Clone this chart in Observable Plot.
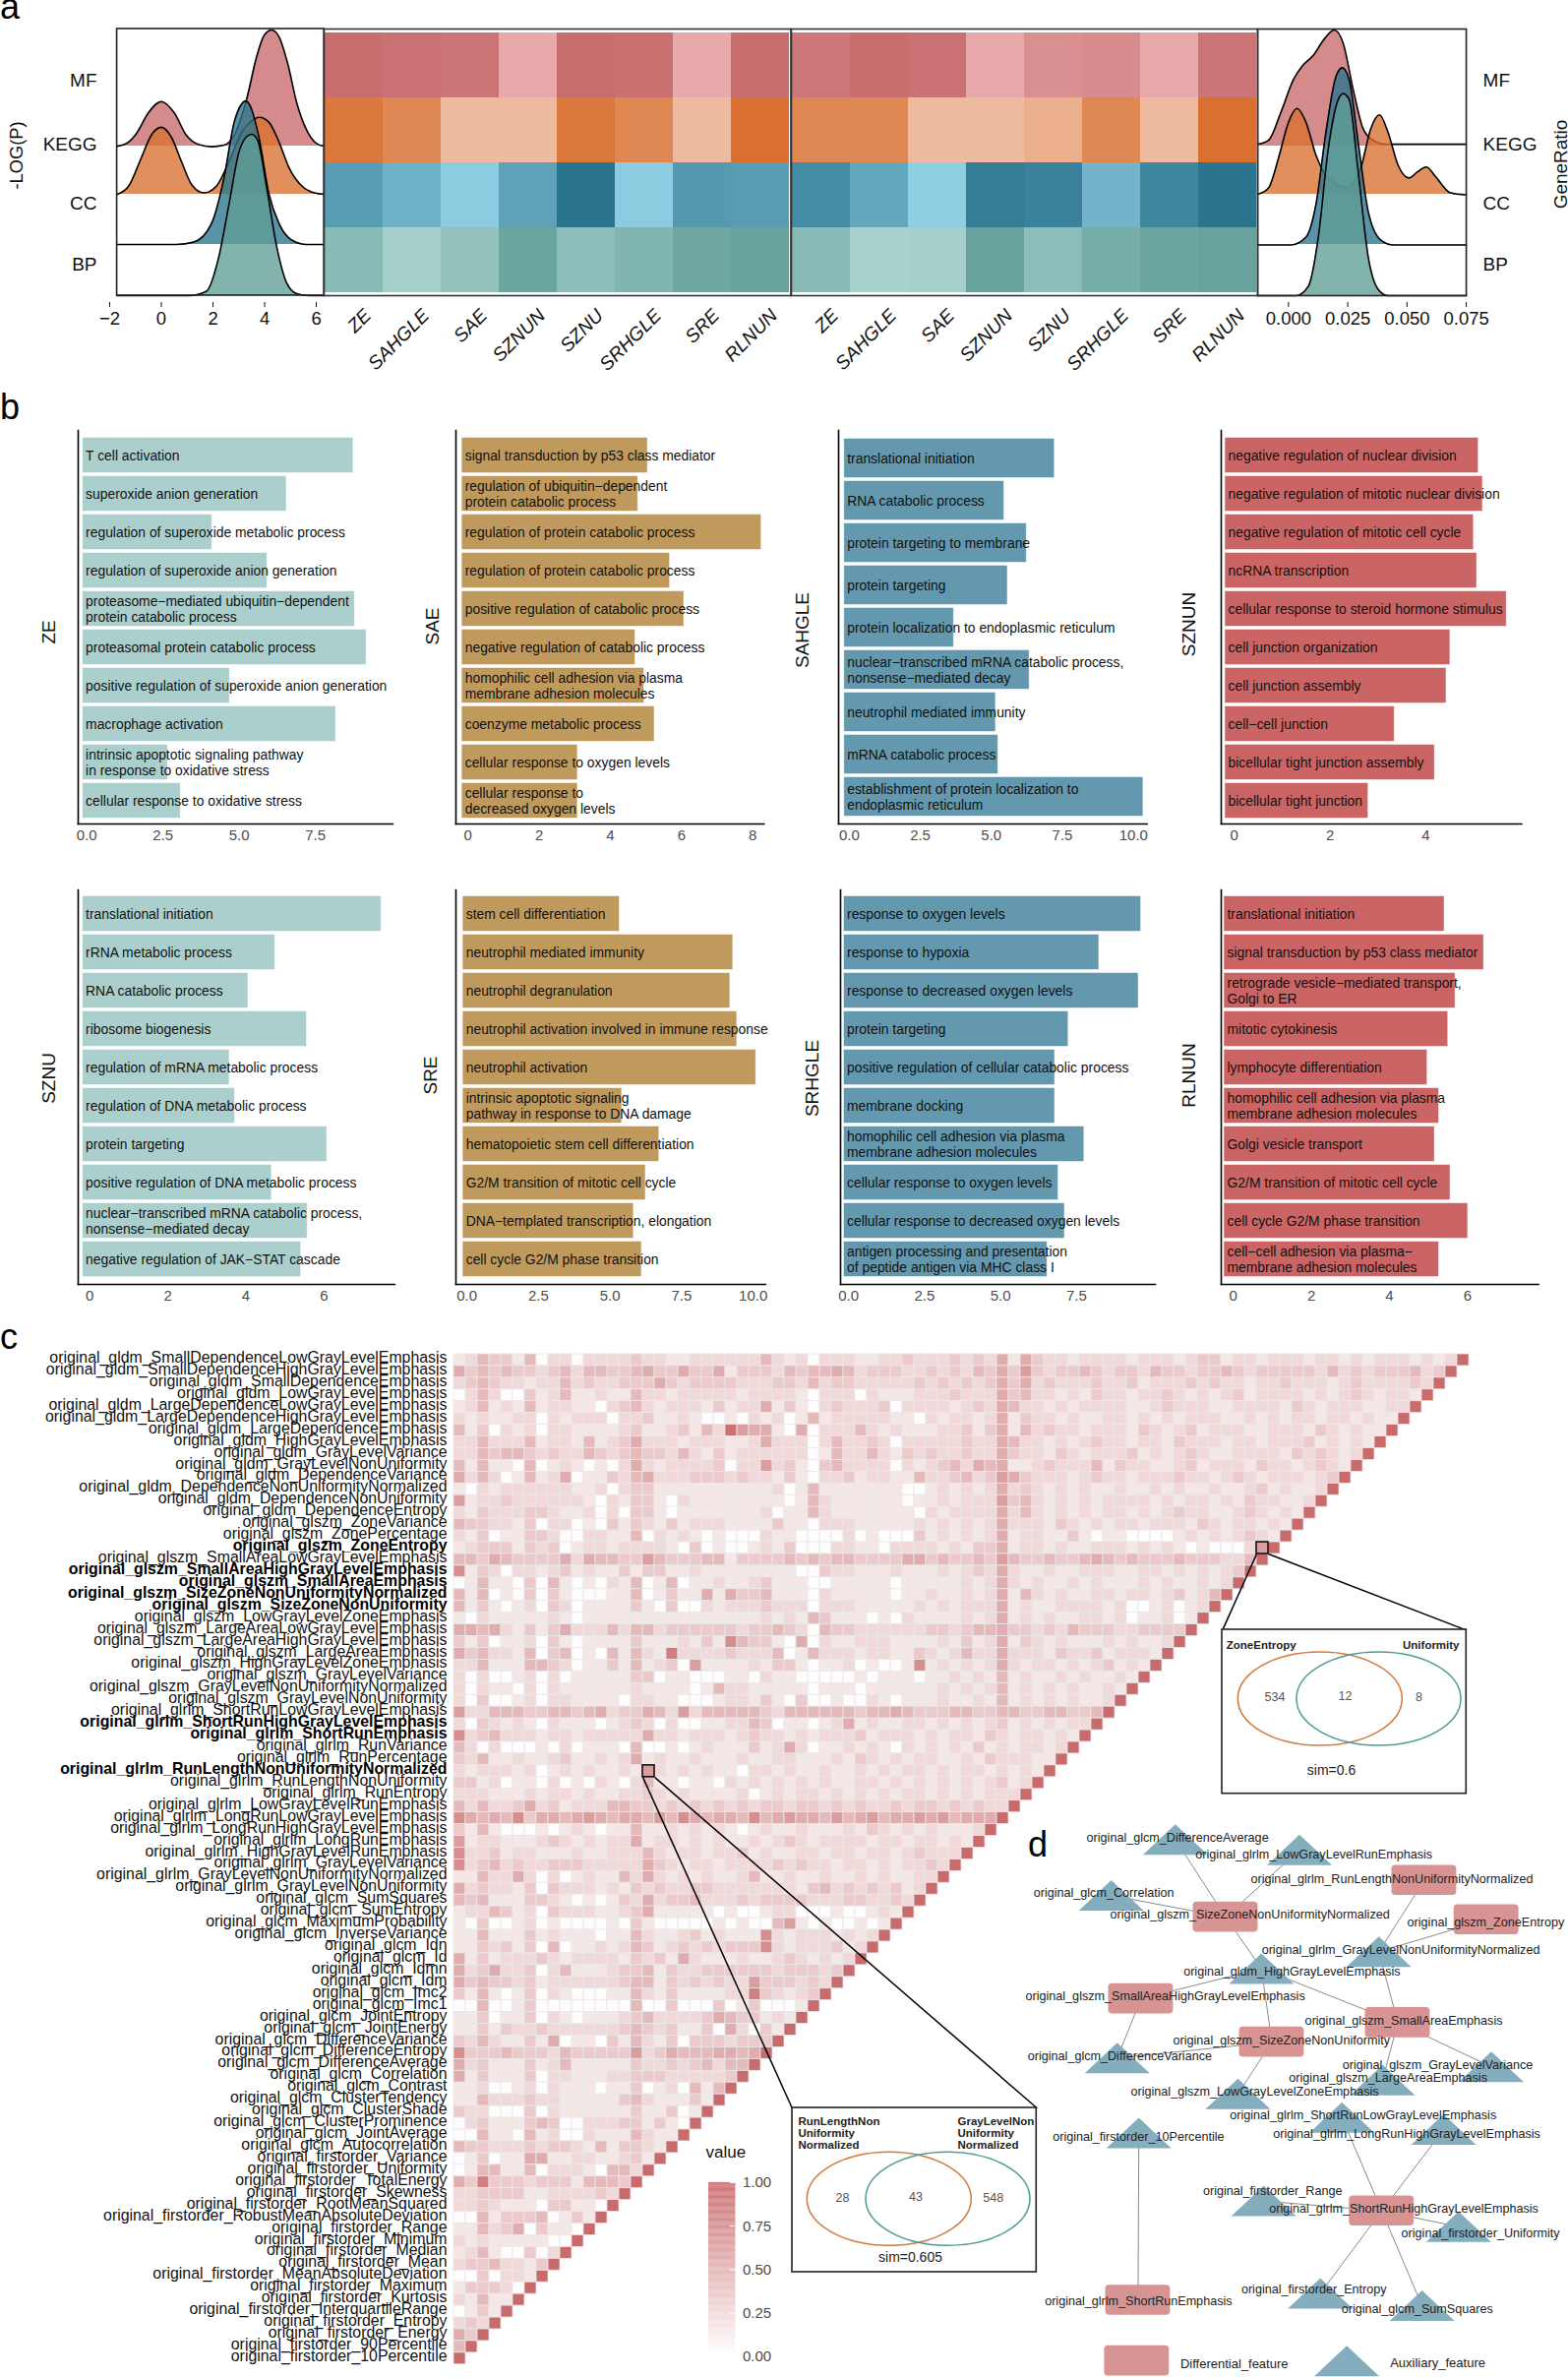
<!DOCTYPE html>
<html><head><meta charset="utf-8">
<script src="https://cdn.jsdelivr.net/npm/d3@7"></script>
<script src="https://cdn.jsdelivr.net/npm/@observablehq/plot@0.6"></script>
<style>
html,body{margin:0;padding:0;background:#fff;overflow:hidden}
#page{position:relative;width:1594px;height:2416px;background:#fff;font-family:"Liberation Sans",Arial,sans-serif}
.tag{position:absolute;font-size:36px;line-height:1;color:#000}
</style></head><body><div id="page"></div>
<script>
const FONT='"Liberation Sans", Arial, sans-serif';
const page=document.getElementById("page");

/* ---------- panel a data ---------- */
const ridgeNames=["MF","KEGG","CC","BP"];
const ridgeBase=[3.01,2.04,1.03,0];
const ridgeFill=["#c96a6c","#d9712f","#2a748e","#5f9e96"];
const logpMFx=[-1.71,-1.36,-0.97,-0.49,0,0.49,0.97,1.46,1.94,2.43,2.82,3.3,3.69,3.98,4.27,4.56,4.89,5.24,5.63,6.02,6.31];
const logpMFy=[3.01,3.06,3.26,3.69,3.91,3.69,3.23,3.04,3.0,3.03,3.23,3.95,4.81,5.24,5.35,5.21,4.68,3.89,3.33,3.06,3.01];
const logpKEGGx=[-1.71,-1.26,-0.78,-0.39,0,0.39,0.78,1.17,1.65,2.14,2.62,3.11,3.5,3.79,4.17,4.56,4.95,5.44,5.92,6.31];
const logpKEGGy=[2.04,2.21,2.77,3.23,3.39,3.19,2.7,2.24,2.07,2.21,2.7,3.29,3.52,3.59,3.49,3.09,2.57,2.21,2.07,2.04];
const logpCCx=[-1.71,0.58,1.26,1.94,2.43,2.82,3.11,3.26,3.44,3.79,4.17,4.56,5.05,5.63,6.31];
const logpCCy=[1.03,1.03,1.08,1.45,2.38,3.49,3.86,3.92,3.82,3.16,2.04,1.45,1.12,1.03,1.03];
const logpBPx=[-1.71,1.07,1.75,2.23,2.62,3.01,3.3,3.5,3.73,4.08,4.47,4.85,5.24,5.73,6.31];
const logpBPy=[0,0,0.09,0.79,1.84,2.9,3.2,3.25,3.13,2.17,0.98,0.26,0.04,0,0];
const ratioMFx=[-0.013,-0.0084,-0.0032,0.0021,0.0063,0.0105,0.0147,0.0193,0.0231,0.0273,0.0315,0.0357,0.041,0.075];
const ratioMFy=[3.05,3.13,3.69,4.35,4.65,4.84,5.14,5.35,5.08,4.15,3.36,3.13,3.05,3.05];
const ratioKEGGx=[-0.013,-0.0084,-0.0042,0,0.0036,0.0074,0.0116,0.0168,0.0246,0.0305,0.0347,0.0384,0.042,0.0462,0.0508,0.0546,0.0582,0.062,0.0683,0.075];
const ratioKEGGy=[2.04,2.17,2.77,3.49,3.77,3.49,2.83,2.37,2.18,2.57,3.36,3.64,3.29,2.63,2.37,2.5,2.59,2.4,2.07,2.03];
const ratioCCx=[-0.013,0.001,0.0074,0.0116,0.0158,0.02,0.0227,0.0256,0.0294,0.0336,0.0389,0.0441,0.075];
const ratioCCy=[1.02,1.02,1.18,1.84,3.29,4.41,4.59,4.35,3.09,1.7,1.12,1.02,1.02];
const ratioBPx=[-0.013,0.0032,0.0084,0.0126,0.0168,0.021,0.0231,0.0256,0.0294,0.0336,0.0378,0.042,0.075];
const ratioBPy=[0,0,0.19,1.18,2.96,3.95,4.07,3.95,2.5,0.79,0.13,0,0];
const heatCols=["ZE","SAHGLE","SAE","SZNUN","SZNU","SRHGLE","SRE","RLNUN"];
const heatLight=["#e9acad","#efbfa6","#92d0e4","#aad2ce"];
const heatDark=["#c76b6c","#d97030","#2a748e","#5f9e96"];
const heatLeftMF=[.95,.9,.85,.05,.95,.92,.05,.97];
const heatLeftKEGG=[.9,.7,.05,.05,.9,.7,.05,1];
const heatLeftCC=[.55,.35,.05,.5,1,.05,.6,.55];
const heatLeftBP=[.45,.05,.3,.85,.4,.55,.8,.9];
const heatRightMF=[.8,.98,.9,.05,.45,.5,.05,.85];
const heatRightKEGG=[.7,.7,.05,.05,.2,.7,.05,1];
const heatRightCC=[.75,.45,.02,.9,.85,.3,.8,1];
const heatRightBP=[.45,.02,.05,.9,.4,.7,.85,.9];

/* ---------- panel b data ---------- */
const termsZE=["T cell activation","superoxide anion generation","regulation of superoxide metabolic process","regulation of superoxide anion generation","proteasome−mediated ubiquitin−dependent\nprotein catabolic process","proteasomal protein catabolic process","positive regulation of superoxide anion generation","macrophage activation","intrinsic apoptotic signaling pathway\nin response to oxidative stress","cellular response to oxidative stress"];
const valuesZE=[8.73,6.54,4.10,5.91,8.78,9.16,4.68,8.16,2.65,3.07];
const termsSAE=["signal transduction by p53 class mediator","regulation of ubiquitin−dependent\nprotein catabolic process","regulation of protein catabolic process","regulation of protein catabolic process","positive regulation of catabolic process","negative regulation of catabolic process","homophilic cell adhesion via plasma\nmembrane adhesion molecules","coenzyme metabolic process","cellular response to oxygen levels","cellular response to\ndecreased oxygen levels"];
const valuesSAE=[5.04,4.77,8.23,5.66,6.06,4.69,4.94,5.23,3.07,3.07];
const termsSAHGLE=["translational initiation","RNA catabolic process","protein targeting to membrane","protein targeting","protein localization to endoplasmic reticulum","nuclear−transcribed mRNA catabolic process,\nnonsense−mediated decay","neutrophil mediated immunity","mRNA catabolic process","establishment of protein localization to\nendoplasmic reticulum"];
const valuesSAHGLE=[7.21,5.44,6.23,5.56,3.67,6.33,5.14,5.23,10.33];
const termsSZNUN=["negative regulation of nuclear division","negative regulation of mitotic nuclear division","negative regulation of mitotic cell cycle","ncRNA transcription","cellular response to steroid hormone stimulus","cell junction organization","cell junction assembly","cell−cell junction","bicellular tight junction assembly","bicellular tight junction"];
const valuesSZNUN=[5.09,5.18,4.99,5.06,5.68,4.5,4.42,3.34,4.18,2.79];
const termsSZNU=["translational initiation","rRNA metabolic process","RNA catabolic process","ribosome biogenesis","regulation of mRNA metabolic process","regulation of DNA metabolic process","protein targeting","positive regulation of DNA metabolic process","nuclear−transcribed mRNA catabolic process,\nnonsense−mediated decay","negative regulation of JAK−STAT cascade"];
const valuesSZNU=[7.46,4.74,4.05,5.55,3.57,3.71,6.07,4.65,5.57,5.4];
const termsSRE=["stem cell differentiation","neutrophil mediated immunity","neutrophil degranulation","neutrophil activation involved in immune response","neutrophil activation","intrinsic apoptotic signaling\npathway in response to DNA damage","hematopoietic stem cell differentiation","G2/M transition of mitotic cell cycle","DNA−templated transcription, elongation","cell cycle G2/M phase transition"];
const valuesSRE=[5.32,9.28,9.18,9.42,10.09,5.4,6.7,6.23,5.81,6.09];
const termsSRHGLE=["response to oxygen levels","response to hypoxia","response to decreased oxygen levels","protein targeting","positive regulation of cellular catabolic process","membrane docking","homophilic cell adhesion via plasma\nmembrane adhesion molecules","cellular response to oxygen levels","cellular response to decreased oxygen levels","antigen processing and presentation\nof peptide antigen via MHC class I"];
const valuesSRHGLE=[9.61,8.23,9.53,7.22,6.78,6.78,7.74,6.89,7.1,6.53];
const termsRLNUN=["translational initiation","signal transduction by p53 class mediator","retrograde vesicle−mediated transport,\nGolgi to ER","mitotic cytokinesis","lymphocyte differentiation","homophilic cell adhesion via plasma\nmembrane adhesion molecules","Golgi vesicle transport","G2/M transition of mitotic cell cycle","cell cycle G2/M phase transition","cell−cell adhesion via plasma−\nmembrane adhesion molecules"];
const valuesRLNUN=[5.4,6.41,5.68,5.49,4.96,5.26,5.15,5.55,6.0,5.26];

/* ---------- panel c data ---------- */
const featGldm=["SmallDependenceLowGrayLevelEmphasis","SmallDependenceHighGrayLevelEmphasis","SmallDependenceEmphasis","LowGrayLevelEmphasis","LargeDependenceLowGrayLevelEmphasis","LargeDependenceHighGrayLevelEmphasis","LargeDependenceEmphasis","HighGrayLevelEmphasis","GrayLevelVariance","GrayLevelNonUniformity","DependenceVariance","DependenceNonUniformityNormalized","DependenceNonUniformity","DependenceEntropy"].map(d=>"original_gldm_"+d);
const featGlszm=["ZoneVariance","ZonePercentage","ZoneEntropy","SmallAreaLowGrayLevelEmphasis","SmallAreaHighGrayLevelEmphasis","SmallAreaEmphasis","SizeZoneNonUniformityNormalized","SizeZoneNonUniformity","LowGrayLevelZoneEmphasis","LargeAreaLowGrayLevelEmphasis","LargeAreaHighGrayLevelEmphasis","LargeAreaEmphasis","HighGrayLevelZoneEmphasis","GrayLevelVariance","GrayLevelNonUniformityNormalized","GrayLevelNonUniformity"].map(d=>"original_glszm_"+d);
const featGlrlm=["ShortRunLowGrayLevelEmphasis","ShortRunHighGrayLevelEmphasis","ShortRunEmphasis","RunVariance","RunPercentage","RunLengthNonUniformityNormalized","RunLengthNonUniformity","RunEntropy","LowGrayLevelRunEmphasis","LongRunLowGrayLevelEmphasis","LongRunHighGrayLevelEmphasis","LongRunEmphasis","HighGrayLevelRunEmphasis","GrayLevelVariance","GrayLevelNonUniformityNormalized","GrayLevelNonUniformity"].map(d=>"original_glrlm_"+d);
const featGlcm=["SumSquares","SumEntropy","MaximumProbability","InverseVariance","Idn","Id","Idmn","Idm","Imc2","Imc1","JointEntropy","JointEnergy","DifferenceVariance","DifferenceEntropy","DifferenceAverage","Correlation","Contrast","ClusterTendency","ClusterShade","ClusterProminence","JointAverage","Autocorrelation"].map(d=>"original_glcm_"+d);
const featFirst=["Variance","Uniformity","TotalEnergy","Skewness","RootMeanSquared","RobustMeanAbsoluteDeviation","Range","Minimum","Median","Mean","MeanAbsoluteDeviation","Maximum","Kurtosis","InterquartileRange","Entropy","Energy","90Percentile","10Percentile"].map(d=>"original_firstorder_"+d);
const features=[...featGldm,...featGlszm,...featGlrlm,...featGlcm,...featFirst];
const boldFeatures=["original_glszm_ZoneEntropy","original_glszm_SmallAreaHighGrayLevelEmphasis","original_glszm_SmallAreaEmphasis","original_glszm_SizeZoneNonUniformityNormalized","original_glszm_SizeZoneNonUniformity","original_glrlm_ShortRunHighGrayLevelEmphasis","original_glrlm_ShortRunEmphasis","original_glrlm_RunLengthNonUniformityNormalized"];
/* similarity in tenths, read by eye; one string per row, diagonal omitted */
const simRows=[
"1243314022 0222232211 2222224212 0222112232 2232325153 2212222122 2123312212 2212212122 21212",
"5343433234 2443345335 3351333243 4454233322 3232435363 2334323324 3323343233 3332423233 3423",
"2343221224 2322333532 3333222332 4233222223 2323235352 3222322312 2232322122 3222123222 232",
"0242003124 1121142212 2222122221 0222021112 2232225342 2121322122 3212123122 2212123212 21",
"1241214122 1102342122 2131225131 0232223022 2212325422 1212222112 3222112222 1321222112 2",
"2121122021 2220223112 1001021201 4122222110 2122125132 2121122121 2122211212 1221221211",
"4130212022 1111231123 1429655105 0222421211 1223135142 3221222132 1231222112 221321211",
"2242224122 1412352221 2221125222 0242232022 2223225422 1212322122 1322212212 22312121",
"2243443232 2432343324 2131222222 0142242132 3223225322 1321222312 1232112222 1323212",
"4141104012 1010252122 2230226231 0342222021 2342545112 3222413221 1231222132 212321",
"5242014125 0113245222 3332322131 0223122114 2234236532 2212322122 2322123212 22123",
"1021222222 1120233111 1111111201 4111111100 1212125232 1212112112 1211211231 2112",
"6122322222 2102133102 1111111101 4211111101 1212226342 1212122221 2122121322 112",
"2132223321 1202033101 1111112011 4211111110 2122225242 1212122121 2322112321 21",
"4332213022 0103132131 2221111311 0222111112 1212125222 1321212212 2213212212 1",
"2130113320 0221140212 1010002110 0002010003 1212125122 1131011000 0121212321",
"1233313230 1221222210 3010012130 0022110222 2121335122 1211222121 210100026",
"4435433335 2544336433 3441333343 4344333355 3433436433 4334543433 34333224",
"7132022123 1211313311 2111111110 0322111211 1212325211 2112221122 1212123",
"0141103041 0102140140 1121123111 0011111011 1112125212 1121211121 211212",
"4140103031 0001140131 1515334111 0211111011 2112125142 1211221221 23124",
"4131012032 0111131030 0212223222 0222111112 1212225121 1222212001 2012",
"1021111121 0111111111 1111112121 4311101021 1112125121 2112212011 201",
"5545213135 2224244233 3333233432 0433222222 3323445332 3243332233 33",
"3130112031 0111131112 1317433105 0211222111 1213125132 1211121211 2",
"5342214034 0104142182 2223222401 4222122113 2124225222 1322312221",
"2241114432 0113141230 6111121331 0112010017 1212125212 212123121",
"2020012020 1111133011 0001102110 0000101110 1121214121 12121121",
"2021102021 1111121111 0142211111 0111011111 1212124121 2121121",
"2030012022 1111022110 0012213103 0010021011 1211214121 212112",
"6224443344 3452335426 2444443244 4444344543 3344334433 44334",
"2032121021 1101232020 0112243011 0125121122 1212123121 2122",
"7234222122 1222225221 2221232212 1222312221 2122132122 121",
"4202000102 0111040010 1211131252 0112121021 2121312122 12",
"3241121123 1121251211 2111211221 1121321212 2112132221 1",
"2122212012 1211216212 1211022121 1211212122 1212212121",
"3312011020 1021024110 1102121212 1211221212 121212312",
"2221112122 1211223212 1111201212 2121212122 12121222",
"4242235231 2224433232 3232323323 3232322323 3232322",
"7545473554 5654554647 5455474565 5464564556 564555",
"3141000101 2101141121 2121012112 1112132121 21112",
"6122111232 1212251221 2121121232 1222212212 2121",
"7223122111 2112224212 2122312112 2122122123 222",
"7234232233 3222225321 2212222323 2212212122 32",
"1142252020 1211425212 1211241121 1211212112 2",
"5232213032 2212132322 3322222221 3423232312",
"4341113321 0101325233 4222323333 222332232",
"1224312032 2211235111 1101001220 00100121",
"1030012010 0001031000 0010100461 0100101",
"1141113121 1101142112 3121117212 221212",
"1132313040 1121243123 2323337212 22312",
"5131222321 2222132315 2111211232 1212",
"5235223024 1112334132 2333333233 323",
"5343323122 2222344132 3232263332 32",
"3141013021 0001142131 1112283212 3",
"0040013000 0000040030 0030130001",
"1130113021 0111234222 235433121",
"1131322322 2222343231 13052031",
"3242113150 1103142130 3332333",
"7333433324 3333362354 445545",
"5231113124 1111132232 34244",
"5131113022 1112233322 2223",
"1120012021 1101130120 414",
"1142223221 1111342111 31",
"3220003021 1111131130 1",
"0231113430 0222331310",
"0041104120 021114211",
"4332223233 21413321",
"0130115511 2211231",
"0144114022 210442",
"5383332333 14443",
"2233331122 2232",
"2232111033 110",
"0041333401 31",
"1142350311 0",
"2121111100",
"124100302",
"23342213",
"0030221",
"133320",
"21411",
"0131",
"232",
"53",
"4",
""];
const valueTicks=[0,.25,.5,.75,1];

/* ---------- venn data ---------- */
const vennACounts=[534,12,8];
const vennBCounts=[28,43,548];

/* ---------- panel d data: name, node x, node y, label x, label y ---------- */
const diffNodes=[
["original_glszm_SizeZoneNonUniformityNormalized",648,316,713,310],
["original_glrlm_RunLengthNonUniformityNormalized",1181,216,1094,213],
["original_glszm_ZoneEntropy",1348,323,1346,329],
["original_glszm_SmallAreaHighGrayLevelEmphasis",421,538,486,532],
["original_glszm_SmallAreaEmphasis",1110,603,1126,597],
["original_glszm_SizeZoneNonUniformity",772,656,798,651],
["original_glrlm_ShortRunHighGrayLevelEmphasis",1067,1115,1126,1108],
["original_glrlm_ShortRunEmphasis",413,1358,414,1361]];
const auxNodes=[
["original_glcm_DifferenceAverage",513,105,519,99],
["original_glrlm_LowGrayLevelRunEmphasis",846,133,885,145],
["original_glcm_Correlation",341,257,321,250],
["original_glrlm_GrayLevelNonUniformityNormalized",1059,410,1118,404],
["original_gldm_HighGrayLevelEmphasis",744,456,826,463],
["original_glcm_DifferenceVariance",357,699,364,693],
["original_glszm_GrayLevelVariance",1361,723,1217,717],
["original_glszm_LargeAreaEmphasis",1069,759,1084,752],
["original_glszm_LowGrayLevelZoneEmphasis",681,797,726,791],
["original_glrlm_ShortRunLowGrayLevelEmphasis",960,861,1017,854],
["original_glrlm_LongRunHighGrayLevelEmphasis",1233,894,1134,906],
["original_firstorder_10Percentile",415,903,414,914],
["original_firstorder_Range",750,1088,774,1062],
["original_firstorder_Uniformity",1273,1158,1332,1176],
["original_firstorder_Entropy",902,1339,885,1328],
["original_glcm_SumSquares",1175,1373,1162,1381]];
const edgePairs=[
["original_glcm_DifferenceAverage","original_glszm_SizeZoneNonUniformityNormalized"],
["original_glrlm_LowGrayLevelRunEmphasis","original_glszm_SizeZoneNonUniformityNormalized"],
["original_glcm_Correlation","original_glszm_SizeZoneNonUniformityNormalized"],
["original_glszm_SizeZoneNonUniformityNormalized","original_gldm_HighGrayLevelEmphasis"],
["original_glrlm_RunLengthNonUniformityNormalized","original_glrlm_GrayLevelNonUniformityNormalized"],
["original_glszm_ZoneEntropy","original_glrlm_GrayLevelNonUniformityNormalized"],
["original_glrlm_GrayLevelNonUniformityNormalized","original_glszm_SmallAreaEmphasis"],
["original_gldm_HighGrayLevelEmphasis","original_glszm_SmallAreaHighGrayLevelEmphasis"],
["original_gldm_HighGrayLevelEmphasis","original_glszm_SmallAreaEmphasis"],
["original_gldm_HighGrayLevelEmphasis","original_glszm_SizeZoneNonUniformity"],
["original_glszm_SmallAreaHighGrayLevelEmphasis","original_glcm_DifferenceVariance"],
["original_glszm_SizeZoneNonUniformity","original_glcm_DifferenceVariance"],
["original_glszm_SizeZoneNonUniformity","original_glszm_LowGrayLevelZoneEmphasis"],
["original_glszm_SmallAreaEmphasis","original_glszm_LargeAreaEmphasis"],
["original_glszm_SmallAreaEmphasis","original_glszm_GrayLevelVariance"],
["original_glrlm_ShortRunHighGrayLevelEmphasis","original_glrlm_ShortRunLowGrayLevelEmphasis"],
["original_glrlm_ShortRunHighGrayLevelEmphasis","original_glrlm_LongRunHighGrayLevelEmphasis"],
["original_glrlm_ShortRunHighGrayLevelEmphasis","original_firstorder_Range"],
["original_glrlm_ShortRunHighGrayLevelEmphasis","original_firstorder_Uniformity"],
["original_glrlm_ShortRunHighGrayLevelEmphasis","original_firstorder_Entropy"],
["original_glrlm_ShortRunHighGrayLevelEmphasis","original_glcm_SumSquares"],
["original_firstorder_10Percentile","original_glrlm_ShortRunEmphasis"]];

/* ---------- helpers ---------- */
function mount(x0,x1,y0,y1,[l,r,t,b],opts){
  const svg=Plot.plot({width:x1-x0+l+r,height:y1-y0+t+b,marginLeft:l,marginRight:r,marginTop:t,marginBottom:b,
    style:{fontFamily:FONT,background:"transparent",overflow:"visible",maxWidth:"none"},...opts});
  svg.style.position="absolute";svg.style.left=(x0-l)+"px";svg.style.top=(y0-t)+"px";
  page.appendChild(svg);return svg;
}
function tag(txt,x,top){const d=document.createElement("div");d.className="tag";d.textContent=txt;d.style.left=x+"px";d.style.top=top+"px";page.appendChild(d);}
tag("a",0,-11);tag("b",0,396);tag("c",0,1341);tag("d",1045,1857);

/* ---------- ridgelines ---------- */
function ridgeMarks(series){
  const out=[];
  series.forEach((s,i)=>{
    const pts=s.xs.map((x,k)=>({x,y:s.ys[k],b:ridgeBase[i]}));
    out.push(Plot.areaY(pts,{x:"x",y1:"b",y2:"y",fill:ridgeFill[i],fillOpacity:.78,curve:"monotone-x"}));
    out.push(Plot.lineY(pts,{x:"x",y:"y",stroke:"#000",strokeWidth:1.6,curve:"monotone-x"}));
  });
  return out;
}
const ridgeLabelTicks=[.62,1.85,3.04,4.33];
const ridgeLabel=v=>ridgeNames[3-ridgeLabelTicks.indexOf(v)];
mount(110.8,329,29,300,[110,10,3,40],{
  x:{domain:[-2,6.31]},y:{domain:[0,5.37]},
  marks:[
    ...ridgeMarks([{xs:logpMFx,ys:logpMFy},{xs:logpKEGGx,ys:logpKEGGy},{xs:logpCCx,ys:logpCCy},{xs:logpBPx,ys:logpBPy}]),
    Plot.rect([0],{x1:()=>-1.71,x2:()=>6.31,y1:()=>0,y2:()=>5.37,fill:"none",stroke:"#222",strokeWidth:1.6}),
    Plot.axisX({ticks:[-2,0,2,4,6],tickFormat:d=>String(d).replace("-","−"),tickSize:5,tickPadding:4,dy:7,fontSize:18.5,color:"#111",label:null}),
    Plot.axisY({ticks:ridgeLabelTicks,tickFormat:ridgeLabel,tickSize:0,tickPadding:13,fontSize:19,color:"#111",label:null}),
    Plot.text(["-LOG(P)"],{frameAnchor:"left",textAnchor:"middle",rotate:-90,dx:-94,dy:-7,fontSize:18.3,fill:"#111"})
  ]});
mount(1277.5,1489.6,29,300,[4,110,3,40],{
  x:{domain:[-0.013,0.075]},y:{domain:[0,5.37]},
  marks:[
    ...ridgeMarks([{xs:ratioMFx,ys:ratioMFy},{xs:ratioKEGGx,ys:ratioKEGGy},{xs:ratioCCx,ys:ratioCCy},{xs:ratioBPx,ys:ratioBPy}]),
    Plot.frame({stroke:"#222",strokeWidth:1.6}),
    Plot.axisX({ticks:[0,.025,.05,.075],tickFormat:d3.format(".3f"),tickSize:5,tickPadding:4,dy:7,fontSize:18.5,color:"#111",label:null}),
    Plot.axisY({anchor:"right",ticks:ridgeLabelTicks,tickFormat:ridgeLabel,tickSize:0,tickPadding:17,fontSize:19,color:"#111",label:null}),
    Plot.text(["GeneRatio"],{frameAnchor:"right",textAnchor:"middle",rotate:-90,dx:96,dy:2,fontSize:19,fill:"#111"})
  ]});

/* ---------- heat strips ---------- */
function heatStrip(x0,x1,rows){
  const cells=[];
  rows.forEach((vals,r)=>vals.forEach((v,c)=>cells.push({col:heatCols[c],row:ridgeNames[r],fill:d3.interpolateRgb(heatLight[r],heatDark[r])(v)})));
  mount(x0,x1,31,298,[2,2,3,90],{
    x:{type:"band",domain:heatCols,padding:0},y:{type:"band",domain:ridgeNames,padding:0,axis:null},
    marks:[
      Plot.cell(cells,{x:"col",y:"row",fill:"fill"}),
      Plot.frame({stroke:"#333",strokeWidth:1.6,insetTop:-2,insetBottom:-2}),
      Plot.axisX({tickRotate:-45,tickSize:0,tickPadding:19,fontSize:19.3,fontStyle:"italic",color:"#111",label:null,dx:14})
    ]});
}
heatStrip(329,803.5,[heatLeftMF,heatLeftKEGG,heatLeftCC,heatLeftBP]);
heatStrip(803.5,1277.5,[heatRightMF,heatRightKEGG,heatRightCC,heatRightBP]);

/* ---------- enrichment bars ---------- */
function barPanel(p){
  const rows=p.terms.map((t,i)=>({i,t,v:p.values[i]}));
  const x=v=>(v-p.zero)/p.unit;
  const base=x(p.left);
  mount(p.x0,p.x1,p.y0,p.y1,[46,14,4,30],{
    x:{domain:[x(p.x0),x(p.x1)]},
    y:{type:"band",domain:d3.range(rows.length),paddingInner:.1,paddingOuter:0,axis:null,insetTop:p.it,insetBottom:p.ib},
    marks:[
      Plot.barX(rows,{y:"i",x1:()=>base,x2:"v",fill:p.color,stroke:p.color,strokeOpacity:.6,strokeWidth:.8}),
      Plot.text(rows,{y:"i",x:()=>base,text:"t",textAnchor:"start",dx:2.5,fontSize:13.9,lineHeight:1.1,fill:"#111"}),
      Plot.frame({anchor:"left",stroke:"#000",strokeWidth:1.6}),
      Plot.frame({anchor:"bottom",stroke:"#000",strokeWidth:1.6}),
      Plot.axisX({ticks:p.ticks,tickFormat:d3.format(p.fmt),tickSize:0,tickPadding:6,fontSize:15,color:"#4d4d4d",label:null}),
      Plot.text([p.title],{frameAnchor:"left",textAnchor:"middle",rotate:-90,dx:p.tx,dy:p.ty,fontSize:19,fill:"#111"})
    ]});
}
const top1={y0:437.3,y1:837.3,it:6.7,ib:5.3};
const top2={y0:904.3,y1:1305.3,it:6.4,ib:6.3};
barPanel({...top1,x0:79.1,x1:399,zero:87.8,unit:31,left:84.2,terms:termsZE,values:valuesZE,color:"#abcfcd",ticks:[0,2.5,5,7.5],fmt:".1f",title:"ZE",tx:-29.6,ty:5});
barPanel({...top1,x0:463.3,x1:776.5,zero:475.5,unit:36.2,left:470,terms:termsSAE,values:valuesSAE,color:"#bf9a5c",ticks:[0,2,4,6,8],fmt:"d",title:"SAE",tx:-23.3,ty:-1});
barPanel({...top1,x0:852,x1:1165.6,zero:862.8,unit:28.9,left:858.2,terms:termsSAHGLE,values:valuesSAHGLE,color:"#6398ae",ticks:[0,2.5,5,7.5,10],fmt:".1f",title:"SAHGLE",tx:-37,ty:3});
barPanel({...top1,x0:1240.5,x1:1545.8,zero:1253.7,unit:48.7,left:1245,terms:termsSZNUN,values:valuesSZNUN,color:"#cb6464",ticks:[0,2,4],fmt:"d",title:"SZNUN",tx:-33,ty:-3});
barPanel({...top2,x0:79.1,x1:401,zero:90.8,unit:39.7,left:84.2,terms:termsSZNU,values:valuesSZNU,color:"#abcfcd",ticks:[0,2,4,6],fmt:"d",title:"SZNU",tx:-29.6,ty:-9});
barPanel({...top2,x0:463.3,x1:778,zero:474.5,unit:29.1,left:471,terms:termsSRE,values:valuesSRE,color:"#bf9a5c",ticks:[0,2.5,5,7.5,10],fmt:".1f",title:"SRE",tx:-25.3,ty:-12});
barPanel({...top2,x0:853.7,x1:1173.7,zero:861.8,unit:30.9,left:857.7,terms:termsSRHGLE,values:valuesSRHGLE,color:"#6398ae",ticks:[0,2.5,5,7.5],fmt:".1f",title:"SRHGLE",tx:-28.7,ty:-9});
barPanel({...top2,x0:1240.5,x1:1563,zero:1252.7,unit:39.7,left:1244,terms:termsRLNUN,values:valuesRLNUN,color:"#cb6464",ticks:[0,2,4,6],fmt:"d",title:"RLNUN",tx:-33,ty:-12});

/* ---------- similarity triangle ---------- */
const simCells=simRows.flatMap((s,r)=>{
  const d=s.replace(/ /g,"");
  return [...Array.from(d,(ch,c)=>({r,c,v:+ch===0?.02:+ch/10+.06})),{r,c:85-r,v:1}];
});
const simColor={type:"linear",domain:[0,1],range:["#ffffff","#c96a6c"],interpolate:"rgb"};
const boldSet=new Set(boldFeatures);
const tickPos=features.map((f,i)=>i+.5);
const featAt=v=>features[Math.floor(v)];
const zoomCells=[{c:68,r:16},{c:16,r:35}];
const zoomLinks=[
  {x1:68,y1:17,x2:65.1,y2:23.5},{x1:69,y1:17,x2:85.8,y2:23.5},
  {x1:16,y1:36,x2:28.65,y2:64.18},{x1:17,y1:36,x2:49.4,y2:64.18}];
mount(460.7,1492.7,1375.7,2402.5,[455,5,6,10],{
  x:{domain:[0,86]},y:{domain:[0,86],reverse:true},color:simColor,
  marks:[
    Plot.rect(simCells,{x1:"c",x2:d=>d.c+1,y1:"r",y2:d=>d.r+1,fill:"v",stroke:"#e8e8e8",strokeWidth:.8}),
    Plot.rect(zoomCells,{x1:"c",x2:d=>d.c+1,y1:"r",y2:d=>d.r+1,fill:"none",stroke:"#000",strokeWidth:1.5}),
    Plot.link(zoomLinks,{x1:"x1",y1:"y1",x2:"x2",y2:"y2",stroke:"#000",strokeWidth:1.5}),
    Plot.axisX({ticks:[],label:null,tickSize:0}),
    Plot.axisY({ticks:tickPos.filter(v=>!boldSet.has(featAt(v))),tickFormat:featAt,tickSize:0,tickPadding:7,fontSize:15.9,dy:-2.5,color:"#111",label:null}),
    Plot.axisY({ticks:tickPos.filter(v=>boldSet.has(featAt(v))),tickFormat:featAt,tickSize:0,tickPadding:7,fontSize:15.9,dy:-2.5,fontWeight:"bold",color:"#000",label:null})
  ]});

/* colour bar */
mount(720.3,747.7,2218,2395,[5,42,42,10],{
  x:{domain:[0,1],axis:null},y:{domain:[0,1]},color:simColor,
  marks:[
    Plot.rect(d3.range(-.04,1,.005),{x1:()=>0,x2:()=>1,y1:d=>d,y2:d=>d+.0055,fill:d=>Math.max(0,d)}),
    Plot.ruleY(valueTicks,{x1:()=>.8,x2:()=>1,stroke:"#fff",strokeWidth:1}),
    Plot.axisY({anchor:"right",ticks:valueTicks,tickFormat:d3.format(".2f"),tickSize:0,tickPadding:7,fontSize:15,color:"#4d4d4d",label:null}),
    Plot.text(["value"],{frameAnchor:"top-left",textAnchor:"start",lineAnchor:"middle",dx:-3,dy:-31,fontSize:17,fill:"#111"})
  ]});

/* ---------- venn insets ---------- */
const ellipseSymbol={draw(ctx){const rx=83.5,ry=47.5,k=.5523;
  ctx.moveTo(-rx,0);
  ctx.bezierCurveTo(-rx,-ry*k,-rx*k,-ry,0,-ry);
  ctx.bezierCurveTo(rx*k,-ry,rx,-ry*k,rx,0);
  ctx.bezierCurveTo(rx,ry*k,rx*k,ry,0,ry);
  ctx.bezierCurveTo(-rx*k,ry,-rx,ry*k,-rx,0);
  ctx.closePath();}};
function venn(x0,y0,w,h,p){
  mount(x0,x0+w,y0,y0+h,[2,2,2,2],{
    x:{domain:[0,w],axis:null},y:{domain:[0,h],reverse:true,axis:null},
    marks:[
      Plot.rect([0],{x1:()=>0,x2:()=>w,y1:()=>0,y2:()=>h,fill:"#fff",stroke:"#222",strokeWidth:1.6}),
      Plot.dot([p.cx[0]],{x:d=>d,y:()=>p.cy,symbol:ellipseSymbol,r:1,fill:"none",stroke:"#d27a3f",strokeWidth:1.5}),
      Plot.dot([p.cx[1]],{x:d=>d,y:()=>p.cy,symbol:ellipseSymbol,r:1,fill:"none",stroke:"#4f9a95",strokeWidth:1.5}),
      Plot.text([p.titleL],{x:()=>p.tl,y:()=>p.ty,textAnchor:"start",fontSize:11.5,fontWeight:"bold",lineHeight:1.07,fill:"#222"}),
      Plot.text([p.titleR],{x:()=>p.tr,y:()=>p.ty,textAnchor:p.ra,fontSize:11.5,fontWeight:"bold",lineHeight:1.07,fill:"#222"}),
      Plot.text(p.counts,{x:(d,i)=>p.nx[i],y:(d,i)=>p.ny[i],text:d=>String(d),fontSize:12.6,fill:"#555"}),
      Plot.text([p.sim],{x:()=>p.sx,y:()=>p.sy,fontSize:14,fill:"#222"})
    ]});
}
venn(1241.7,1656,248.3,166.7,{cx:[99.3,159],cy:70,titleL:"ZoneEntropy",titleR:"Uniformity",tl:4.3,tr:241,ra:"end",ty:16,
  counts:vennACounts,nx:[53.6,125,200],ny:[68,67,68],sim:"sim=0.6",sx:111,sy:143});
venn(804.7,2142,248.3,167,{cx:[98.3,158],cy:92.3,titleL:"RunLengthNon\nUniformity\nNormalized",titleR:"GrayLevelNon\nUniformity\nNormalized",tl:6,tr:168,ra:"start",ty:25.7,
  counts:vennBCounts,nx:[51,125.6,204.3],ny:[91,90.3,91],sim:"sim=0.605",sx:120,sy:152.3});

/* ---------- network ---------- */
const flatTriangle={draw(ctx){ctx.moveTo(0,-15.5);ctx.lineTo(33,15.5);ctx.lineTo(-33,15.5);ctx.closePath();}};
const toObj=([name,x,y,lx,ly])=>({name,x,y,lx,ly});
const sq=diffNodes.map(toObj),tri=auxNodes.map(toObj);
const byName=new Map([...sq,...tri].map(d=>[d.name,d]));
const edges=edgePairs.map(([a,b])=>({a:byName.get(a),b:byName.get(b)}));
const SQ="#d89393",TR="#84adbd";
const legendSq=[{name:"Differential_feature",x:410,y:1523,lx:671,ly:1531}];
const legendTr=[{name:"Auxiliary_feature",x:973,y:1523,lx:1217,ly:1529}];
const halfW=87,halfH=41;
mount(1000,1594,1830,2416,[0,0,0,0],{
  x:{domain:[0,1568],range:[0,594],axis:null},y:{domain:[0,1568],range:[0,586],axis:null},
  marks:[
    Plot.link(edges,{x1:d=>d.a.x,y1:d=>d.a.y,x2:d=>d.b.x,y2:d=>d.b.y,stroke:"#8a8a8a",strokeWidth:1}),
    Plot.rect([...sq,...legendSq],{x1:d=>d.x-halfW,x2:d=>d.x+halfW,y1:d=>d.y-halfH,y2:d=>d.y+halfH,fill:SQ,rx:4}),
    Plot.dot([...tri,...legendTr],{x:"x",y:"y",symbol:flatTriangle,r:1,fill:TR,stroke:"none"}),
    Plot.text([...sq,...tri],{x:"lx",y:"ly",text:"name",fontSize:12.6,fill:"#222"}),
    Plot.text([...legendSq,...legendTr],{x:"lx",y:"ly",text:"name",fontSize:13,fill:"#222"})
  ]});
</script></body></html>
